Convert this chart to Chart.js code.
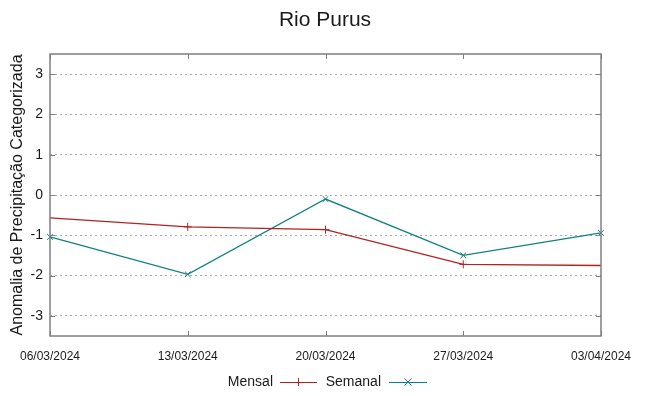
<!DOCTYPE html>
<html>
<head>
<meta charset="utf-8">
<script src="https://cdn.jsdelivr.net/npm/chart.js@4"></script>
<style>
  html, body { margin: 0; padding: 0; background: #fff; }
  #wrap { width: 649px; height: 396px; }
</style>
</head>
<body>
<div id="wrap"><canvas id="chart" width="649" height="396"></canvas></div>
<script>
const datas = ["06/03/2024", "13/03/2024", "20/03/2024", "27/03/2024", "03/04/2024"];
const mensal = [-0.57, -0.79, -0.86, -1.72, -1.75];
const semanal = [-1.04, -1.97, -0.10, -1.50, -0.94];
const yTicks = [-3, -2, -1, 0, 1, 2, 3];

const corMensal = "#b22222";
const corSemanal = "#0f8080";
const fonte = "'Liberation Sans', Arial, sans-serif";

// moldura do gráfico com marcas de escala para dentro
const moldura = {
  id: "moldura",
  afterDatasetsDraw(chart) {
    const { ctx, chartArea: a, scales } = chart;
    ctx.save();
    ctx.strokeStyle = "#7f7f7f";
    ctx.lineWidth = 1.5;
    ctx.strokeRect(a.left, a.top, a.right - a.left, a.bottom - a.top);
    ctx.lineWidth = 1;
    ctx.beginPath();
    datas.forEach((d, i) => {
      const x = Math.round(scales.x.getPixelForValue(i)) + 0.5;
      ctx.moveTo(x, a.bottom); ctx.lineTo(x, a.bottom - 5);
      ctx.moveTo(x, a.top); ctx.lineTo(x, a.top + 5);
    });
    yTicks.forEach(v => {
      const y = Math.round(scales.y.getPixelForValue(v)) + 0.5;
      ctx.moveTo(a.left, y); ctx.lineTo(a.left + 5, y);
      ctx.moveTo(a.right, y); ctx.lineTo(a.right - 5, y);
    });
    ctx.stroke();
    ctx.restore();
  }
};

// título centrado na figura e legenda no estilo gnuplot
const textos = {
  id: "textos",
  afterDraw(chart) {
    const ctx = chart.ctx;
    ctx.save();
    ctx.fillStyle = "#1a1a1a";
    ctx.textBaseline = "middle";
    ctx.textAlign = "center";
    ctx.font = "21px " + fonte;
    ctx.fillText("Rio Purus", 325, 20);

    const y = 382;
    ctx.font = "14px " + fonte;
    ctx.textAlign = "right";
    const itens = [
      { nome: "Mensal", cor: corMensal, marca: "cross", xt: 273, x0: 280, x1: 317 },
      { nome: "Semanal", cor: corSemanal, marca: "crossRot", xt: 381, x0: 389, x1: 427 }
    ];
    itens.forEach(it => {
      ctx.fillText(it.nome, it.xt, y);
      ctx.strokeStyle = it.cor;
      ctx.lineWidth = 1;
      ctx.beginPath();
      ctx.moveTo(it.x0, y + 0.5); ctx.lineTo(it.x1, y + 0.5);
      ctx.stroke();
      const xm = (it.x0 + it.x1) / 2;
      ctx.beginPath();
      if (it.marca === "cross") {
        ctx.moveTo(xm, y - 4); ctx.lineTo(xm, y + 4);
      } else {
        ctx.moveTo(xm - 3.5, y - 3.5); ctx.lineTo(xm + 3.5, y + 3.5);
        ctx.moveTo(xm - 3.5, y + 3.5); ctx.lineTo(xm + 3.5, y - 3.5);
      }
      ctx.stroke();
    });
    ctx.restore();
  }
};

new Chart(document.getElementById("chart"), {
  type: "line",
  data: {
    labels: datas,
    datasets: [
      {
        label: "Mensal",
        data: mensal,
        borderColor: corMensal,
        borderWidth: 1.3,
        pointStyle: "cross",
        pointRadius: ctx => (ctx.dataIndex === 0 || ctx.dataIndex === mensal.length - 1) ? 0 : 4,
        pointBorderColor: corMensal,
        pointBorderWidth: 1,
        tension: 0,
        fill: false
      },
      {
        label: "Semanal",
        data: semanal,
        borderColor: corSemanal,
        borderWidth: 1.3,
        pointStyle: "crossRot",
        pointRadius: 4,
        pointBorderColor: corSemanal,
        pointBorderWidth: 1,
        tension: 0,
        fill: false
      }
    ]
  },
  options: {
    responsive: false,
    animation: false,
    layout: { padding: { left: 0, right: 48, top: 54, bottom: 0 } },
    plugins: {
      legend: { display: false },
      tooltip: { enabled: false },
      title: { display: false }
    },
    scales: {
      x: {
        type: "category",
        offset: false,
        grid: { display: false, drawTicks: false },
        border: { display: false },
        ticks: {
          color: "#1a1a1a",
          font: { family: fonte, size: 12 },
          padding: 13,
          maxRotation: 0,
          autoSkip: false
        },
        afterFit(scale) { scale.height = 60; }
      },
      y: {
        min: -3.5,
        max: 3.5,
        afterBuildTicks(scale) {
          scale.ticks = yTicks.map(v => ({ value: v }));
        },
        grid: {
          color: "#a8a8a8",
          lineWidth: 1,
          drawTicks: false
        },
        border: { display: false, dash: [2, 3] },
        ticks: {
          color: "#1a1a1a",
          font: { family: fonte, size: 14 },
          padding: 7
        },
        title: {
          display: true,
          text: "Anomalia de Precipitação Categorizada",
          color: "#1a1a1a",
          font: { family: fonte, size: 16 },
          padding: { top: 8, bottom: 0 }
        },
        afterFit(scale) { scale.width = 50; }
      }
    }
  },
  plugins: [moldura, textos]
});
</script>
</body>
</html>
